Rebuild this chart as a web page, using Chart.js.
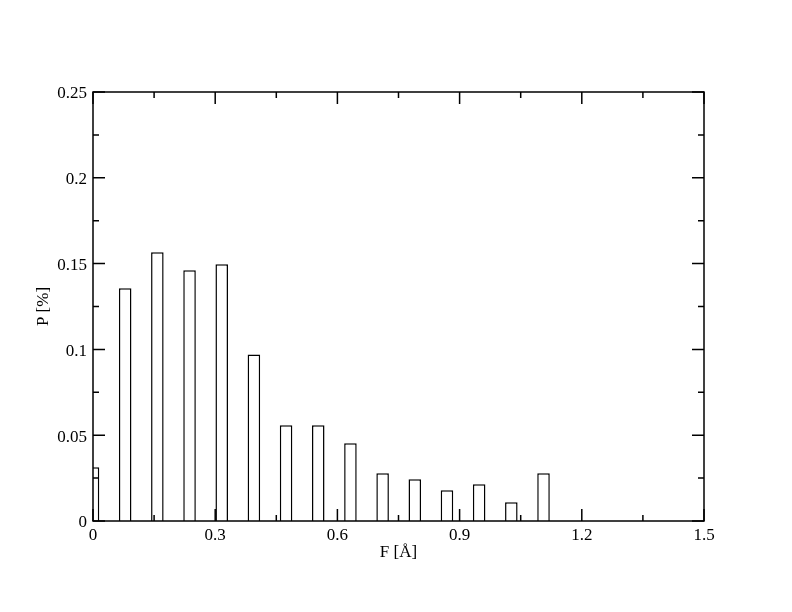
<!DOCTYPE html>
<html>
<head>
<meta charset="utf-8">
<script src="https://cdn.jsdelivr.net/npm/chart.js@4/dist/chart.umd.min.js"></script>
<style>
  html, body { margin: 0; padding: 0; background: #fff; }
  #c { display: block; }
</style>
</head>
<body>
<canvas id="c" width="792" height="612"></canvas>
<script>
// ---- data ----
const binCenters = [0, 0.079, 0.158, 0.237, 0.316, 0.395, 0.474, 0.553, 0.632, 0.711, 0.790, 0.869, 0.948, 1.027, 1.106];
const probabilities = [0.0313, 0.1356, 0.1566, 0.1461, 0.1496, 0.0971, 0.0558, 0.0558, 0.0453, 0.0278, 0.0243, 0.0179, 0.0214, 0.0109, 0.0278];
const xTickValues = [0, 0.3, 0.6, 0.9, 1.2, 1.5];
const yTickValues = [0, 0.05, 0.1, 0.15, 0.2, 0.25];
const xTitle = 'F [Å]';
const yTitle = 'P [%]';

const FONT = 'Liberation Serif, Times New Roman, serif';

const framePlugin = {
  id: 'frameTicks',
  afterDatasetsDraw(chart) {
    const ctx = chart.ctx;
    const a = chart.chartArea;
    const xs = chart.scales.x, ys = chart.scales.y;
    ctx.save();
    ctx.strokeStyle = '#000';
    ctx.lineWidth = 1.5;
    ctx.beginPath();
    for (let i = 0; i < xTickValues.length; i++) {
      const v = xTickValues[i];
      const p = xs.getPixelForValue(v);
      ctx.moveTo(p, a.bottom); ctx.lineTo(p, a.bottom - 12);
      ctx.moveTo(p, a.top); ctx.lineTo(p, a.top + 12);
      if (i < xTickValues.length - 1) {
        const m = xs.getPixelForValue((v + xTickValues[i + 1]) / 2);
        ctx.moveTo(m, a.bottom); ctx.lineTo(m, a.bottom - 6);
        ctx.moveTo(m, a.top); ctx.lineTo(m, a.top + 6);
      }
    }
    for (let i = 0; i < yTickValues.length; i++) {
      const v = yTickValues[i];
      const p = ys.getPixelForValue(v);
      ctx.moveTo(a.left, p); ctx.lineTo(a.left + 12, p);
      ctx.moveTo(a.right, p); ctx.lineTo(a.right - 12, p);
      if (i < yTickValues.length - 1) {
        const m = ys.getPixelForValue((v + yTickValues[i + 1]) / 2);
        ctx.moveTo(a.left, m); ctx.lineTo(a.left + 6, m);
        ctx.moveTo(a.right, m); ctx.lineTo(a.right - 6, m);
      }
    }
    ctx.stroke();
    ctx.strokeRect(a.left, a.top, a.right - a.left, a.bottom - a.top);
    ctx.restore();
  }
};

new Chart(document.getElementById('c'), {
  type: 'bar',
  data: {
    datasets: [{
      data: binCenters.map((x, i) => ({ x: x, y: probabilities[i] })),
      backgroundColor: '#ffffff',
      borderColor: '#000000',
      borderWidth: 1.5,
      borderSkipped: 'bottom',
      categoryPercentage: 1.0,
      barPercentage: 0.39,
      clip: 0
    }]
  },
  options: {
    responsive: false,
    animation: false,
    events: [],
    layout: { padding: { left: 0, top: 92, right: 88, bottom: 0 } },
    plugins: { legend: { display: false }, tooltip: { enabled: false } },
    scales: {
      x: {
        type: 'linear',
        offset: false,
        min: 0, max: 1.5,
        afterBuildTicks(s) { s.ticks = xTickValues.map(v => ({ value: v })); },
        afterFit(s) { s.height = 91; },
        grid: { display: false, drawTicks: false },
        border: { display: false },
        ticks: {
          padding: 4,
          color: '#000',
          font: { family: FONT, size: 17 },
          maxRotation: 0,
          callback: v => String(v)
        },
        title: {
          display: true, text: xTitle, color: '#000',
          font: { family: FONT, size: 17 },
          padding: { top: 0, bottom: 49 }
        }
      },
      y: {
        type: 'linear',
        min: 0, max: 0.25,
        afterBuildTicks(s) { s.ticks = yTickValues.map(v => ({ value: v })); },
        afterFit(s) { s.width = 93; },
        grid: { display: false, drawTicks: false },
        border: { display: false },
        ticks: {
          padding: 6,
          labelOffset: 2,
          color: '#000',
          font: { family: FONT, size: 17 },
          callback: v => String(v)
        },
        title: {
          display: true, text: yTitle, color: '#000',
          font: { family: FONT, size: 17, weight: 'normal' },
          padding: { top: 33, bottom: 0 }
        }
      }
    }
  },
  plugins: [framePlugin]
});
</script>
</body>
</html>
